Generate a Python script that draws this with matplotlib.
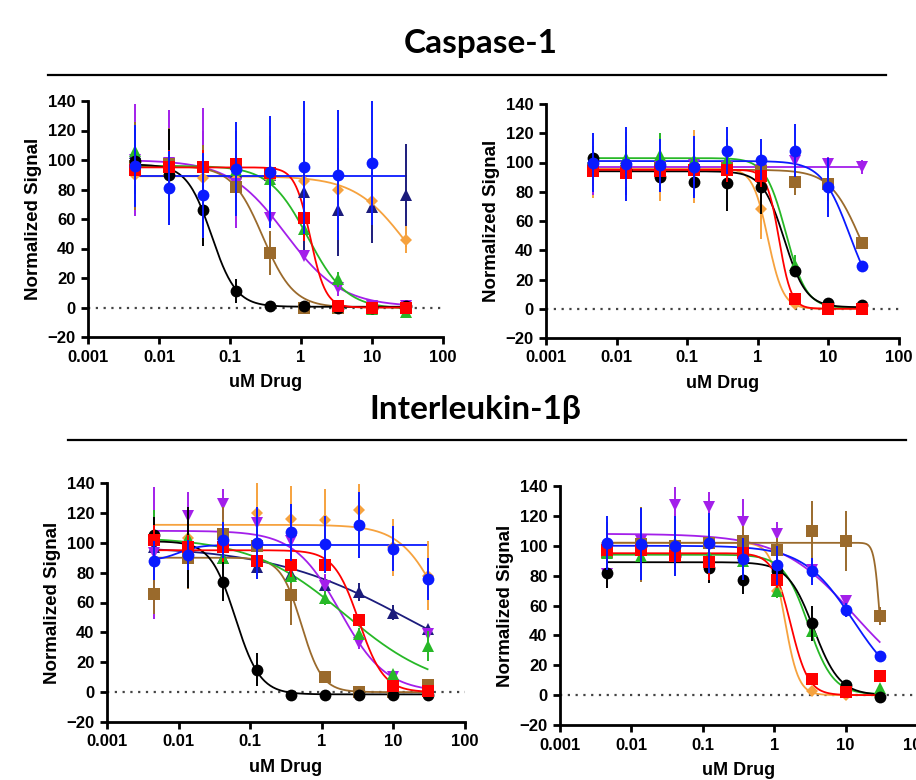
import numpy as np
import matplotlib
matplotlib.use("Agg")
import matplotlib.pyplot as plt
from matplotlib.lines import Line2D

plt.rcParams['font.family'] = ['Liberation Sans', 'DejaVu Sans']
plt.rcParams['font.weight'] = 'bold'

# 3-fold dilution series, uM
conc = [0.00457, 0.0137, 0.0412, 0.123, 0.370, 1.11, 3.33, 10, 30]
x_ticks = [0.001, 0.01, 0.1, 1, 10, 100]
x_ticklabels = ['0.001', '0.01', '0.1', '1', '10', '100']
y_ticks = [-20, 0, 20, 40, 60, 80, 100, 120, 140]

series = ['navy', 'orange', 'purple', 'brown', 'green', 'black', 'red', 'blue']
colors = {'black': '#000000', 'brown': '#9A6A2C', 'purple': '#A31FEA',
          'green': '#27B827', 'red': '#FF0000', 'orange': '#F6A23E',
          'navy': '#1C1C7C', 'blue': '#0A1AFF'}
markers = {'black': 'o', 'brown': 's', 'purple': 'v', 'green': '^',
           'red': 's', 'orange': 'D', 'navy': '^', 'blue': 'o'}
marker_size = {'o': 8.5, 's': 8, 'v': 8.5, '^': 8.5, 'D': 6}
nan = np.nan

# Caspase-1, left panel
casp_a_mean = {
    'black': [99, 90, 66, 11, 1, 1, 0, 0, 1],
    'brown': [96, 97, 95, 82, 37, 0, 0, 0, 0],
    'purple': [100, 98, 95, 84, 61, 35, 13, 1, 1],
    'green': [106, 97, 96, 93, 87, 53, 19, -1, -3],
    'red': [93, 95, 95, 97, 91, 61, 1, 0, 0],
    'orange': [90, 90, 88, 87, 87, 86, 80, 72, 46],
    'navy': [105, 97, 95, 92, 90, 78, 66, 68, 76],
    'blue': [96, 81, 76, 94, 92, 95, 90, 98, nan],
}
casp_a_err = {
    'black': [22, 31, 24, 8, 2, 2, 1, 1, 1],
    'brown': [30, 25, 15, 12, 15, 2, 1, 1, 1],
    'purple': [38, 36, 40, 30, 5, 3, 5, 1, 1],
    'green': [10, 8, 10, 8, 11, 6, 5, 1, 1],
    'red': [10, 12, 12, 10, 25, 16, 2, 1, 1],
    'orange': [20, 18, 20, 20, 28, 31, 28, 16, 9],
    'navy': [20, 25, 25, 28, 20, 40, 31, 24, 35],
    'blue': [28, 25, 29, 32, 38, 45, 44, 42, nan],
}
# (top, bottom, IC50, hill)
casp_a_fit = {
    'black': (97, 0.5, 0.055, 2.5), 'brown': (96, 0, 0.29, 2.0),
    'purple': (100, 0.5, 0.6, 1.1), 'green': (96, -1, 1.25, 1.6),
    'red': (95, 0, 1.35, 4), 'orange': (89, 0, 30, 1.2),
    'navy': None, 'blue': (89, 89, 1, 1),
}

# Caspase-1, right panel
casp_b_mean = {
    'black': [103, 95, 90, 87, 86, 83, 26, 4, 2.5],
    'brown': [95, 94, 96, 95, 96, 94, 87, 85, 45],
    'purple': [96, 97, 97, 98, 97, 95, 101, 99, 97],
    'green': [103, 103, 105, 102, 102, 93, 30, 2, 0],
    'red': [94, 93, 94, 95, 95, 91, 7, 0, 0],
    'orange': [96, 97, 96, 97, 96, 68, 3, 0, 0],
    'navy': [nan] * 9,
    'blue': [100, 99, 98, 97, 108, 102, 108, 83, 29],
}
casp_b_err = {
    'black': [8, 17, 10, 10, 19, 18, 3, 2, 2],
    'brown': [8, 8, 8, 10, 10, 8, 9, 11, 3],
    'purple': [18, 15, 15, 10, 10, 8, 8, 5, 5],
    'green': [8, 18, 15, 8, 14, 10, 7, 1, 1],
    'red': [10, 10, 8, 8, 8, 8, 2, 1, 1],
    'orange': [20, 15, 22, 25, 10, 20, 2, 1, 1],
    'navy': [nan] * 9,
    'blue': [20, 25, 18, 21, 16, 14, 18, 20, 2],
}
casp_b_fit = {
    'black': (94, 1, 2.37, 2.8), 'brown': (95, 0, 28.5, 2.0),
    'purple': (97, 97, 1, 1), 'green': (103, 0.5, 2.5, 3),
    'red': (95, 0, 2.0, 5), 'orange': (96, 0, 1.39, 4),
    'navy': None, 'blue': (101, 0, 20, 2.2),
}

# Interleukin-1b, left panel
il_a_mean = {
    'black': [105, 97, 74, 15, -2, -2, -2, -2, -2],
    'brown': [66, 90, 106, 98, 65, 10, 0, 0, 5],
    'purple': [93, 118, 126, 113, 101, 71, 33, 10, 39],
    'green': [106, 103, 90, 88, 78, 63, 39, 12, 31],
    'red': [102, 97, 97, 88, 85, 85, 48, 4, 1],
    'orange': [105, 103, 98, 120, 116, 115, 122, 97, 78],
    'navy': [97, 95, 90, 84, 79, 72, 67, 53, 42],
    'blue': [88, 92, 102, 100, 107, 99, 112, 96, 76],
}
il_a_err = {
    'black': [12, 27, 13, 11, 1, 1, 1, 1, 1],
    'brown': [14, 21, 18, 20, 20, 2, 1, 1, 2],
    'purple': [44, 16, 10, 10, 10, 8, 4, 2, 3],
    'green': [16, 8, 6, 8, 5, 5, 4, 2, 10],
    'red': [10, 8, 10, 6, 8, 4, 4, 2, 1],
    'orange': [10, 8, 8, 20, 22, 21, 17, 19, 23],
    'navy': [6, 6, 6, 6, 6, 5, 6, 5, 3],
    'blue': [13, 10, 12, 24, 19, 19, 22, 15, 14],
}
il_a_fit = {
    'black': (101, -1.5, 0.062, 2.5), 'brown': (90, 0, 0.52, 3),
    'purple': (108, 0, 1.8, 1.35), 'green': (104, 0, 2.1, 0.66),
    'red': (95, 0, 3.3, 2.5), 'orange': (112, 0, 50, 1.5),
    'navy': (98, 0, 16, 0.45), 'blue': (88, 98.5, 0.01, 3),
}

# Interleukin-1b, right panel
il_b_mean = {
    'black': [82, 100, 93, 85, 77, 83, 48, 7, -1],
    'brown': [96, 101, 100, 102, 103, 97, 110, 103, 53],
    'purple': [81, 103, 127, 126, 116, 108, 84, 63, 53],
    'green': [95, 93, 95, 93, 90, 70, 43, 4, 5],
    'red': [97, 97, 93, 89, 95, 77, 11, 2, 13],
    'orange': [102, 102, 101, 102, 102, 70, 3, 0, -1],
    'navy': [nan] * 9,
    'blue': [102, 101, 100, 102, 91, 87, 83, 57, 26],
}
il_b_err = {
    'black': [10, 10, 10, 10, 9, 8, 12, 3, 1],
    'brown': [20, 25, 20, 20, 10, 8, 20, 20, 6],
    'purple': [9, 10, 12, 10, 15, 8, 8, 4, 6],
    'green': [15, 10, 10, 15, 5, 5, 5, 2, 2],
    'red': [12, 15, 10, 12, 8, 5, 3, 2, 2],
    'orange': [12, 20, 20, 18, 8, 4, 2, 1, 1],
    'navy': [nan] * 9,
    'blue': [18, 24, 20, 20, 14, 13, 9, 5, 3],
}
il_b_fit = {
    'black': (89, 0, 3.57, 2.4), 'brown': (102, 0, 30.2, 11),
    'purple': (108, 0, 13, 0.85), 'green': (94, 0.5, 3.0, 2.5),
    'red': (95, 0, 1.7, 3.5), 'orange': (102, 0, 1.4, 4.5),
    'navy': None, 'blue': (100, 0, 12.8, 1.24),
}


def logistic(x, top, bottom, ic50, hill):
    return bottom + (top - bottom) / (1 + (x / ic50) ** hill)


def draw_panel(ax, means, errs, fits):
    ax.plot([0.001, 100], [0, 0], ls=(0, (1, 2.5)), color='#444444', lw=1.6, zorder=1)
    xs = np.logspace(np.log10(conc[0]), np.log10(conc[-1]), 300)
    for k, name in enumerate(series):
        c = colors[name]
        if fits[name] is not None:
            ax.plot(xs, logistic(xs, *fits[name]), color=c, lw=1.3, zorder=2 + k)
        ax.errorbar(conc, means[name], yerr=errs[name], fmt=markers[name],
                    color=c, ms=marker_size[markers[name]], mew=0,
                    elinewidth=1.4, capsize=3.5, capthick=1.4, zorder=12 + k)
    ax.set_xscale('log')
    ax.set_xlim(0.001, 100)
    ax.set_ylim(-20, 140)
    ax.set_xticks(x_ticks)
    ax.set_xticklabels(x_ticklabels)
    ax.set_yticks(y_ticks)
    ax.minorticks_off()
    ax.spines['top'].set_visible(False)
    ax.spines['right'].set_visible(False)
    for s in ('left', 'bottom'):
        ax.spines[s].set_linewidth(2)
    ax.tick_params(direction='out', length=5, width=2, labelsize=12, pad=4)
    ax.set_xlabel('uM Drug', fontsize=13, fontweight='bold', labelpad=7)
    ax.set_ylabel('Normalized Signal', fontsize=13.5, fontweight='bold', labelpad=4)


W, H = 916, 780
fig = plt.figure(figsize=(W / 100, H / 100), dpi=100)


def box(x0, x1, y0, y1):
    return [x0 / W, 1 - y1 / H, (x1 - x0) / W, (y1 - y0) / H]


ax1 = fig.add_axes(box(88, 443, 101, 337))
ax2 = fig.add_axes(box(546, 899, 104, 338))
ax3 = fig.add_axes(box(107, 465, 483, 722))
ax4 = fig.add_axes(box(560, 917, 486, 725))

draw_panel(ax1, casp_a_mean, casp_a_err, casp_a_fit)
draw_panel(ax2, casp_b_mean, casp_b_err, casp_b_fit)
draw_panel(ax3, il_a_mean, il_a_err, il_a_fit)
draw_panel(ax4, il_b_mean, il_b_err, il_b_fit)

title_font = ['Lato', 'DejaVu Sans']
fig.text(481 / W, 1 - 43 / H, 'Caspase-1', ha='center', va='center',
         fontsize=24, fontweight='bold', family=title_font)
fig.text(475 / W, 1 - 409 / H, 'Interleukin-1β', ha='center', va='center',
         fontsize=24, fontweight='bold', family=title_font)
fig.add_artist(Line2D([48 / W, 886 / W], [1 - 75 / H, 1 - 75 / H], color='black', lw=1.6))
fig.add_artist(Line2D([68 / W, 906 / W], [1 - 440 / H, 1 - 440 / H], color='black', lw=1.6))

fig.savefig('out.png', dpi=100)
